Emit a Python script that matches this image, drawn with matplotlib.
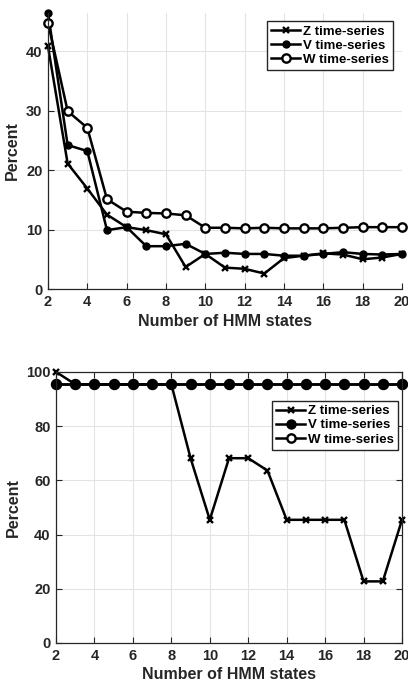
import matplotlib.pyplot as plt
import numpy as np

plt.rcParams['font.family'] = ['Liberation Sans', 'DejaVu Sans']
plt.rcParams['font.weight'] = 'bold'

states = list(range(2, 21))

# top panel
z_top = [40.8, 21.1, 16.9, 12.5, 10.4, 9.9, 9.2, 3.7, 5.9, 3.6, 3.4, 2.6, 5.2, 5.6, 6.0, 5.8, 5.0, 5.3, 5.9]
v_top = [46.4, 24.2, 23.2, 9.9, 10.4, 7.2, 7.2, 7.6, 5.9, 6.1, 5.9, 5.9, 5.6, 5.6, 5.9, 6.2, 5.9, 5.8, 5.9]
w_top = [44.8, 29.9, 27.1, 15.1, 13.0, 12.8, 12.7, 12.4, 10.3, 10.3, 10.2, 10.3, 10.2, 10.2, 10.2, 10.3, 10.4, 10.4, 10.4]

# bottom panel
z_bot = [100, 95.45, 95.45, 95.45, 95.45, 95.45, 95.45, 68.18, 45.45, 68.18, 68.18, 63.64,
         45.45, 45.45, 45.45, 45.45, 22.73, 22.73, 45.45]
v_bot = [95.45] * 19
w_bot = [95.45] * 19

labels = ["Z time-series", "V time-series", "W time-series"]

fig = plt.figure(figsize=(4.08, 6.82), dpi=100)
ax1 = fig.add_axes([0.1176, 0.5762, 0.8676, 0.4047])
ax2 = fig.add_axes([0.1373, 0.0572, 0.848, 0.3974])


def style(ax, ylim, yticks, box, xpad):
    ax.set_xlim(2, 20)
    ax.set_ylim(ylim)
    ax.set_xticks(range(2, 21, 2))
    ax.set_yticks(yticks)
    ax.grid(True, color="#e3e3e3", linewidth=0.8)
    ax.set_axisbelow(True)
    ax.tick_params(direction="in", length=4, width=0.8, labelsize=10.5, pad=4,
                   top=box, right=box, colors="#262626")
    for s in ax.spines.values():
        s.set_color("#262626")
        s.set_linewidth(0.9)
    if not box:
        ax.spines["top"].set_visible(False)
        ax.spines["right"].set_visible(False)
    for lab in ax.get_xticklabels() + ax.get_yticklabels():
        lab.set_fontweight("bold")
    ax.set_xlabel("Number of HMM states", fontsize=11.5, fontweight="bold", color="#262626", labelpad=xpad)
    ax.set_ylabel("Percent", fontsize=11.5, fontweight="bold", color="#262626")


lw = 1.8
ax1.plot(states, z_top, "k-", marker="x", ms=4.5, mew=1.7, lw=lw, label=labels[0], clip_on=False)
ax1.plot(states, v_top, "k-", marker="o", ms=5, lw=lw, label=labels[1], clip_on=False)
ax1.plot(states, w_top, "k-", marker="o", ms=6, mfc="white", mew=1.7, lw=lw, label=labels[2], clip_on=False)
style(ax1, (0, 46.4), [0, 10, 20, 30, 40], False, 4)
ax1.legend(loc="upper right", bbox_to_anchor=(0.974, 0.97), fontsize=9.5, frameon=True,
           fancybox=False, edgecolor="#262626", framealpha=1, handlelength=2.2,
           borderpad=0.3, labelspacing=0.15, handletextpad=0.2, borderaxespad=0)

ax2.plot(states, z_bot, "k-", marker="x", ms=4.5, mew=1.7, lw=lw, label=labels[0], clip_on=False)
ax2.plot(states, v_bot, "k-", marker="o", ms=6.5, lw=lw, label=labels[1], clip_on=False)
ax2.plot(states, w_bot, "k-", marker="o", ms=6.5, mfc="black", mew=1.7, lw=lw, clip_on=False)
ax2.plot([], [], "k-", marker="o", ms=6, mfc="white", mew=1.7, lw=lw, label=labels[2])
style(ax2, (0, 100), [0, 20, 40, 60, 80, 100], True, 3)
ax2.legend(loc="upper right", bbox_to_anchor=(0.988, 0.893), fontsize=9.5, frameon=True,
           fancybox=False, edgecolor="#262626", framealpha=1, handlelength=2.2,
           borderpad=0.3, labelspacing=0.15, handletextpad=0.2, borderaxespad=0)

fig.savefig("out.png", dpi=100)
